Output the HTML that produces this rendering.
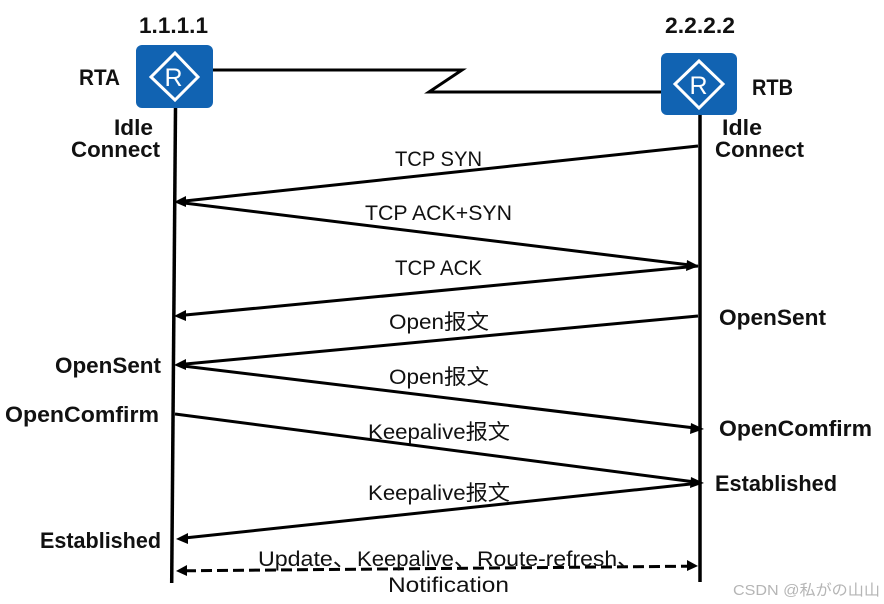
<!DOCTYPE html>
<html>
<head>
<meta charset="utf-8">
<style>
html,body{margin:0;padding:0;background:#fff;width:884px;height:604px;overflow:hidden}
svg{display:block;filter:blur(0.35px)}
text{font-family:"Liberation Sans","Noto Sans CJK SC",sans-serif;fill:#111}
.b{font-weight:bold;font-size:22px}
.n{font-size:21px}
.l{stroke:#000;stroke-width:3;fill:none}
</style>
</head>
<body>
<svg width="884" height="604" viewBox="0 0 884 604" xmlns="http://www.w3.org/2000/svg">
<rect width="884" height="604" fill="#fff"/>
<!-- link -->
<path d="M213 70H462L429 92H661" fill="none" stroke="#000" stroke-width="3"/>
<!-- lifelines -->
<path d="M175.500 108L171.700 583" fill="none" stroke="#000" stroke-width="3.500"/>
<path d="M700 115V582" fill="none" stroke="#000" stroke-width="3.500"/>
<!-- routers -->
<rect x="136" y="45" width="77" height="63" rx="6" fill="#1163b2"/>
<path d="M175 53L198 77L175 100L151 77Z" fill="none" stroke="#fff" stroke-width="3"/>
<text x="173.500" y="86" text-anchor="middle" style="font-size:25px;fill:#fff">R</text>
<rect x="661" y="53" width="76" height="62" rx="6" fill="#1163b2"/>
<path d="M699 61L723 84L699 108L675 84Z" fill="none" stroke="#fff" stroke-width="3"/>
<text x="698.500" y="94" text-anchor="middle" style="font-size:25px;fill:#fff">R</text>
<!-- arrows -->
<g class="l">
<path d="M698 146L180 201.500"/>
<path d="M180 202.500L692 265.300"/>
<path d="M698 266L180 315.500"/>
<path d="M698 316L180 364.500"/>
<path d="M180 365.600L698 428.400"/>
<path d="M175 414L698 482.400"/>
<path d="M700 483L182 538.300"/>
<path d="M185 570.800L689 566.200" stroke-dasharray="11 5"/>
</g>
<g fill="#000">
<path d="M174 202L186 196L186 207Z"/>
<path d="M699 266L687 260L686 271Z"/>
<path d="M174 316L186 310L186 321Z"/>
<path d="M174 365L186 359L186 370Z"/>
<path d="M704 429L691 423L690 434Z"/>
<path d="M704 483L691 477L690 488Z"/>
<path d="M176 539L188 533L188 544Z"/>
<path d="M176 571L187 565L187 576Z"/>
<path d="M698 566L687 560L687 571Z"/>
</g>
<!-- bold labels -->
<text class="b" x="139" y="33" textLength="69" lengthAdjust="spacingAndGlyphs">1.1.1.1</text>
<text class="b" x="665" y="33" textLength="70" lengthAdjust="spacingAndGlyphs">2.2.2.2</text>
<text class="b" x="79" y="85" textLength="41" lengthAdjust="spacingAndGlyphs">RTA</text>
<text class="b" x="752" y="95" textLength="41" lengthAdjust="spacingAndGlyphs">RTB</text>
<text class="b" x="114" y="135" textLength="39" lengthAdjust="spacingAndGlyphs">Idle</text>
<text class="b" x="71" y="157" textLength="89" lengthAdjust="spacingAndGlyphs">Connect</text>
<text class="b" x="722" y="135" textLength="40" lengthAdjust="spacingAndGlyphs">Idle</text>
<text class="b" x="715" y="157" textLength="89" lengthAdjust="spacingAndGlyphs">Connect</text>
<text class="b" x="719" y="325" textLength="107" lengthAdjust="spacingAndGlyphs">OpenSent</text>
<text class="b" x="55" y="373" textLength="106" lengthAdjust="spacingAndGlyphs">OpenSent</text>
<text class="b" x="5" y="422" textLength="154" lengthAdjust="spacingAndGlyphs">OpenComfirm</text>
<text class="b" x="719" y="436" textLength="153" lengthAdjust="spacingAndGlyphs">OpenComfirm</text>
<text class="b" x="715" y="491" textLength="122" lengthAdjust="spacingAndGlyphs">Established</text>
<text class="b" x="40" y="548" textLength="121" lengthAdjust="spacingAndGlyphs">Established</text>
<!-- message labels -->
<text class="n" x="395" y="166" textLength="87" lengthAdjust="spacingAndGlyphs">TCP SYN</text>
<text class="n" x="365" y="220" textLength="147" lengthAdjust="spacingAndGlyphs">TCP ACK+SYN</text>
<text class="n" x="395" y="275" textLength="87" lengthAdjust="spacingAndGlyphs">TCP ACK</text>
<text class="n" x="389" y="329" textLength="100" lengthAdjust="spacingAndGlyphs">Open报文</text>
<text class="n" x="389" y="384" textLength="100" lengthAdjust="spacingAndGlyphs">Open报文</text>
<text class="n" x="368" y="439" textLength="142" lengthAdjust="spacingAndGlyphs">Keepalive报文</text>
<text class="n" x="368" y="500" textLength="142" lengthAdjust="spacingAndGlyphs">Keepalive报文</text>
<text class="n" x="258" y="566" textLength="98" lengthAdjust="spacingAndGlyphs">Update、</text>
<text class="n" x="357" y="566" textLength="119" lengthAdjust="spacingAndGlyphs">Keepalive、</text>
<text class="n" x="477" y="566" textLength="163" lengthAdjust="spacingAndGlyphs">Route-refresh、</text>
<text class="n" x="388" y="592" textLength="121" lengthAdjust="spacingAndGlyphs">Notification</text>
<!-- watermark -->
<text x="733" y="595" textLength="147" lengthAdjust="spacingAndGlyphs" style="font-size:15px;fill:#b5b5b5">CSDN @私がの山山</text>
</svg>
</body>
</html>
